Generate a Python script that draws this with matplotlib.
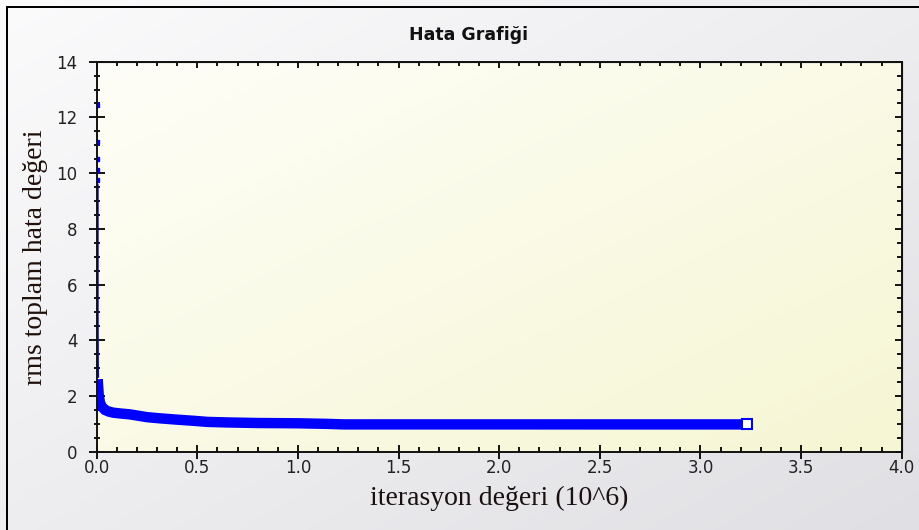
import numpy as np
import matplotlib.pyplot as plt
from matplotlib.colors import LinearSegmentedColormap, to_rgb
from matplotlib.patches import Rectangle
from matplotlib.ticker import MultipleLocator, NullFormatter

# sparse first iterations (the thin spike at x ~ 0)
spike_x = [0.003, 0.003, 0.003, 0.003, 0.003]
spike_y = [12.45, 11.1, 10.5, 10.1, 9.75]
drop_x = [0.003, 0.003, 0.004, 0.005]
drop_y = [9.55, 5.0, 3.2, 2.7]

# dense part of the error curve (iterations in 10^6)
iter_x = [0.005, 0.01, 0.016, 0.025, 0.041, 0.06, 0.083, 0.12, 0.165, 0.25, 0.31,
          0.4, 0.48, 0.55, 0.65, 0.8, 1.0, 1.14, 1.23, 1.5, 2.0, 2.5, 3.0, 3.23]
rms_y = [2.6, 2.05, 1.77, 1.62, 1.5, 1.44, 1.4, 1.37, 1.34, 1.24, 1.2,
         1.15, 1.11, 1.07, 1.05, 1.03, 1.02, 1.0, 0.98, 0.98, 0.98, 0.98, 0.98, 0.98]

x_ticks = [0.0, 0.5, 1.0, 1.5, 2.0, 2.5, 3.0, 3.5, 4.0]
y_ticks = [0, 2, 4, 6, 8, 10, 12, 14]

fig = plt.figure(figsize=(9.2, 5.3), dpi=100)

# figure background gradient, painted straight into the pixels
gx, gy = np.meshgrid(np.linspace(0, 1, 920), np.linspace(0, 1, 530))
g = ((gx + gy) / 2)[..., None]
c0, c1 = np.array(to_rgb('#fbfbfc')), np.array(to_rgb('#e0e0e4'))
img = c0 + (c1 - c0) * g
# outer frame: only its top and left edges are inside the picture
img[6:8, 6:] = 0.0
img[6:, 6:8] = 0.0
fig.figimage(img, xo=0, yo=0, origin='upper', zorder=-10)

L, R, B, T = 96.7 / 920, 901.7 / 920, 1 - 451.7 / 530, 1 - 61.7 / 530
ax = fig.add_axes([L, B, R - L, T - B])
ax.imshow(g[::4, ::4, 0], cmap=LinearSegmentedColormap.from_list('axc', ['#fefef8', '#f6f6d4']),
          extent=[0, 1, 0, 1], aspect='auto', origin='upper',
          transform=ax.transAxes, zorder=0)

ax.plot(drop_x, drop_y, color='#0000ff', lw=2.0, zorder=3)
ax.plot(spike_x, spike_y, ls='none', marker='s', ms=2.5, color='#0000ff', zorder=3)
ax.plot(iter_x, rms_y, color='#0000ff', lw=7.5, solid_capstyle='butt',
        solid_joinstyle='miter', zorder=3)
ax.plot([iter_x[-1]], [rms_y[-1]], marker='s', ms=6.5, mfc='white', mec='#0000ff',
        mew=1.5, zorder=4)

ax.set_xlim(0, 4)
ax.set_ylim(0, 14)
ax.set_xticks(x_ticks)
ax.set_yticks(y_ticks)
ax.set_xticklabels([f'{v:.1f}' for v in x_ticks])
ax.set_yticklabels([str(v) for v in y_ticks])
ax.xaxis.set_minor_locator(MultipleLocator(0.1))
ax.yaxis.set_minor_locator(MultipleLocator(0.5))
ax.tick_params(axis='x', which='major', direction='inout', length=10, width=1.3, pad=0.5,
               labelsize=12, colors='black', labelcolor='#222222')
ax.tick_params(axis='x', which='minor', direction='in', length=3.5, width=1.3)
ax.tick_params(axis='y', which='major', direction='inout', length=12, width=1.3, pad=8,
               labelsize=12, labelcolor='#222222')
ax.tick_params(axis='y', which='minor', direction='inout', length=5, width=1.3)
for s in ax.spines.values():
    s.set_linewidth(1.4)
    s.set_color('#111111')
    s.set_zorder(5)

top = ax.secondary_xaxis('top')
top.set_xticks(x_ticks)
top.xaxis.set_minor_locator(MultipleLocator(0.1))
top.xaxis.set_major_formatter(NullFormatter())
top.tick_params(which='major', direction='in', length=4.5, width=1.3)
top.tick_params(which='minor', direction='in', length=3, width=1.3)
right = ax.secondary_yaxis('right')
right.set_yticks(y_ticks)
right.yaxis.set_minor_locator(MultipleLocator(0.5))
right.yaxis.set_major_formatter(NullFormatter())
right.tick_params(which='major', direction='in', length=5, width=1.3)
right.tick_params(which='minor', direction='in', length=3.5, width=1.3)

ax.set_xlabel('iterasyon değeri (10^6)', family='Liberation Serif', fontsize=20,
              color='#1a1010', labelpad=6)
ax.set_ylabel('rms toplam hata değeri', family='Liberation Serif', fontsize=20,
              color='#20100c', labelpad=6)
fig.text(469 / 920, 1 - 35 / 530, 'Hata Grafiği', ha='center', va='center',
         family='DejaVu Sans', fontweight='bold', fontsize=12.5, color='#111111')

fig.savefig('out.png', dpi=100)
